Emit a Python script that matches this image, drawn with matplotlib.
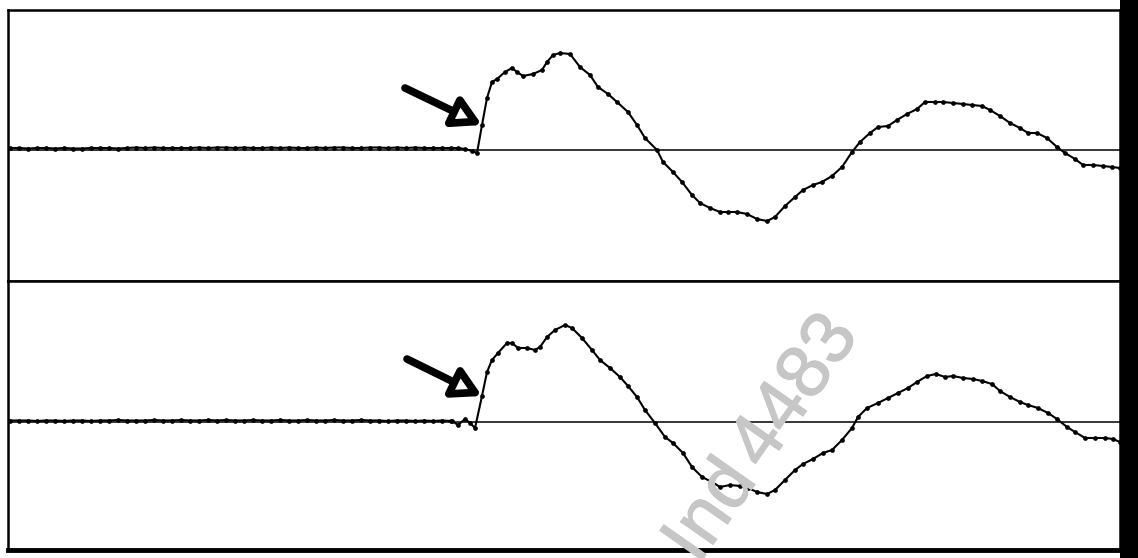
#!/usr/bin/env python3
"""Two stacked waveform traces with onset arrows"""

import numpy as np
import matplotlib
matplotlib.use('Agg')
import matplotlib.pyplot as plt
import matplotlib.patheffects as pe
from matplotlib.patches import Rectangle

# Data (time in sample units, amplitude relative to baseline)
flat_t = np.arange(10, 452, 9)
flat_top = [2, 2, 1.5, 2, 2, 1.5, 2, 1.5, 1.5, 2, 2, 2, 1.5, 2, 2.5, 2, 2.5, 2, 2,
            2, 2, 2.5, 2, 2.5, 2.5, 2, 2.5, 2, 2, 2.5, 2, 2.5, 2, 2, 2.5, 2, 2.5,
            2.5, 2, 2, 2.5, 2.5, 2, 2.5, 2, 2.5, 2, 2, 2, 2]
flat_bot = [1.5, 1.5, 1.5, 1, 1.5, 1.5, 1, 1.5, 1.5, 1, 1.5, 1.5, 2, 1.5, 1.5, 1.5, 2,
            1.5, 1.5, 2, 1.5, 1.5, 2, 1.5, 2, 1.5, 1.5, 2, 1.5, 1.5, 2, 1.5, 1.5,
            2, 1.5, 1.5, 2, 1.5, 1.5, 2, 1.5, 1.5, 1, 1.5, 1.5, 1, 1.5, 1, 1.5, 1]

wave_t_top = [458, 465, 472, 477, 482, 487, 492, 497, 505, 512, 517, 523, 533, 542, 547,
              553, 560, 570, 580, 590, 598, 608, 617, 628, 637, 645, 657, 663, 673, 682,
              692, 700, 710, 720, 728, 737, 747, 757, 767, 775, 785, 795, 803, 813, 822,
              832, 842, 852, 860, 870, 878, 888, 897, 907, 917, 925, 935, 943, 953, 963,
              972, 982, 990, 1000, 1010, 1020, 1028, 1037, 1047, 1057, 1065, 1075, 1083,
              1093, 1103, 1112, 1120]
wave_top = [2, 1, -1, -3, 25, 52, 68, 71, 78, 82, 78, 74, 76, 80, 88, 95, 97, 96, 83, 75,
            63, 56, 48, 38, 25, 12, 0, -12, -22, -32, -45, -53, -58, -62, -62, -62, -64,
            -69, -71, -67, -56, -47, -40, -35, -32, -26, -17, -2, 8, 17, 23, 24, 30, 36,
            41, 48, 48, 48, 47, 46, 45, 44, 40, 34, 27, 22, 17, 17, 12, 3, -3, -9, -15,
            -15, -16, -17, -18]

wave_t_bot = [452, 458, 465, 470, 475, 482, 487, 492, 498, 507, 512, 518, 527, 535, 540,
              547, 555, 565, 572, 582, 592, 600, 610, 620, 628, 637, 645, 655, 665, 673,
              683, 692, 702, 712, 720, 730, 740, 748, 757, 767, 775, 785, 795, 803, 813,
              823, 832, 842, 852, 858, 867, 878, 888, 898, 908, 917, 927, 936, 945, 953,
              963, 973, 982, 992, 1000, 1010, 1020, 1028, 1038, 1048, 1057, 1067, 1075,
              1085, 1095, 1105, 1113, 1120]
wave_bot = [1, -3, 3, -1, -6, 26, 50, 62, 69, 79, 79, 74, 74, 72, 75, 85, 92, 97, 94, 84,
            72, 62, 54, 45, 36, 25, 12, -1, -15, -21, -31, -45, -55, -60, -65, -63, -64,
            -66, -70, -72, -68, -58, -48, -42, -37, -31, -28, -18, -6, 5, 14, 19, 24, 29,
            34, 40, 46, 48, 45, 46, 44, 43, 41, 38, 31, 25, 20, 17, 14, 9, 3, -5, -10,
            -16, -16, -16, -17, -20]

fig = plt.figure(figsize=(11.38, 5.58), dpi=100)
W, H = 1138.0, 558.0

# axes placed to match the boxed panels
ax1 = fig.add_axes([8 / W, 1 - 281 / H, 1112 / W, 271 / H])
ax2 = fig.add_axes([8 / W, 1 - 550 / H, 1112 / W, 269 / H])

panels = [(ax1, flat_top, wave_t_top, wave_top, (140, -131), (482, 25), (405, 62)),
          (ax2, flat_bot, wave_t_bot, wave_bot, (141, -128), (482, 26), (407, 63))]

for ax, flat_v, wt, wv, ylim, tip, tail in panels:
    ax.axhline(0, color='black', linewidth=1.1, zorder=1)
    t = np.concatenate([flat_t, wt])
    v = np.concatenate([flat_v, wv])
    ax.plot(t, v, color='black', linewidth=1.5, marker='o', markersize=3.4,
            markeredgewidth=0, zorder=3)
    ax.annotate('', xy=tip, xytext=tail,
                arrowprops=dict(arrowstyle='-|>,head_length=0.75,head_width=0.42',
                                lw=5.5, mutation_scale=22, fc='white', ec='black',
                                shrinkA=0, shrinkB=0), zorder=4)
    ax.set_xlim(8, 1120)
    ax.set_ylim(ylim[1], ylim[0])
    ax.set_xticks([])
    ax.set_yticks([])
    for s in ax.spines.values():
        s.set_linewidth(1.8)
        s.set_color('black')

ax2.spines['bottom'].set_linewidth(3.5)

# black bar on the right edge
fig.patches.append(Rectangle((1120 / W, 0), 18 / W, 1, transform=fig.transFigure,
                             facecolor='black', edgecolor='none', zorder=2))

# watermark
wm = '#c6c6c6'
wfont = dict(rotation=55, color=wm, fontsize=54, family='Liberation Sans',
             ha='center', va='center', zorder=10,
             path_effects=[pe.withStroke(linewidth=0.8, foreground=wm)])
fig.text(796 / W, 1 - 392 / H, '4483', **wfont)
fig.text(712 / W, 1 - 512 / H, 'Ind', **wfont)
fig.text(772 / W, 1 - 585 / H, 'A', **wfont)

plt.savefig('out.png', dpi=100)
print("saved")
